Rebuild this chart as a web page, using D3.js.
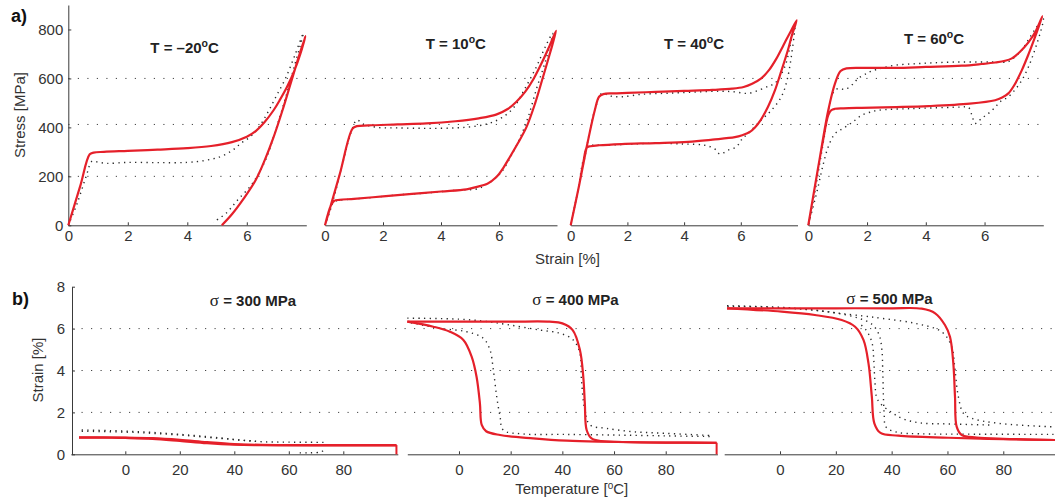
<!DOCTYPE html>
<html><head><meta charset="utf-8">
<script src="https://cdn.jsdelivr.net/npm/d3@7/dist/d3.min.js"></script>
<style>
body{margin:0;background:#fff;}
svg{display:block;font-family:"Liberation Sans",Arial,sans-serif;}
</style></head><body>
<svg id="c" width="1055" height="501"></svg>
<script>
// ---------------- DATA (panel a: stress-strain, [strain %, stress MPa]) ----------------
const tempsA = ["–20", "10", "40", "60"];
const stressTicks = [0, 200, 400, 600, 800];
const strainTicksA = [0, 2, 4, 6];
const gridA = [200, 412, 600];

const a1Model = [[0,0],[0.4,160],[0.72,290],[0.85,297],[1.2,300],[2,304],[3,309],[4,315],[4.8,324],[5.5,340],[6,362],[6.3,385],[6.6,422],[6.9,470],[7.1,510],[7.35,565],[7.6,632],[7.8,700],[7.97,773],
  [7.75,690],[7.5,590],[7.2,470],[6.9,360],[6.6,265],[6.3,185],[5.9,110],[5.5,45],[5.16,0]];
const a1Exp = [[0,0],[0.3,90],[0.6,200],[0.8,262],[1.0,258],[1.3,253],[2,257],[3,256],[4,257],[4.6,265],[5.1,280],[5.5,305],[5.8,335],[6.1,360],[6.4,400],[6.7,460],[7.0,530],[7.3,600],[7.6,690],[7.9,785],
  [7.6,650],[7.3,520],[6.97,389],[6.63,267],[6.19,171],[5.69,103],[5.3,49],[4.87,12]];

const a2Model = [[0,0],[0.5,205],[0.95,395],[1.1,405],[1.5,408],[2.5,412],[3.5,416],[4.5,425],[5.3,437],[5.9,452],[6.3,475],[6.6,505],[6.9,545],[7.2,600],[7.5,670],[7.75,735],[7.97,795],
  [7.75,700],[7.52,607],[7.25,500],[6.95,402],[6.65,335],[6.38,280],[6.15,235],[5.92,198],[5.6,170],[5.2,156],[4.88,147],[4,138],[3,128],[2,118],[1,108],[0.5,104],[0.32,100],[0.2,80],[0,0]];
const a2Exp = [[0,0],[0.3,110],[0.6,250],[0.9,380],[1.1,430],[1.3,415],[1.8,400],[2.5,398],[3.5,396],[4.5,398],[5.2,405],[5.7,418],[6.1,440],[6.5,480],[6.9,560],[7.3,650],[7.6,730],[7.85,785],
  [7.6,670],[7.3,560],[7.0,440],[6.7,350],[6.4,280],[6.1,220],[5.8,185],[5.5,163],[5.3,150],[4.5,143],[3.5,132],[2.5,124],[1.5,112],[0.5,102],[0.3,95],[0.15,50],[0,0]];

const a3Model = [[0,0],[0.3,165],[0.6,340],[0.85,470],[1.0,525],[1.15,536],[1.5,539],[2,541],[3,545],[4,549],[5,553],[5.7,558],[6.1,565],[6.4,578],[6.72,600],[7.0,635],[7.25,680],[7.5,735],[7.75,790],[7.97,838],
  [7.8,775],[7.66,715],[7.4,620],[7.2,550],[6.96,484],[6.7,430],[6.5,400],[6.3,380],[6.05,368],[5.79,360],[5,350],[4.14,341],[3,336],[1.8,332],[1.0,327],[0.7,323],[0.57,318],[0.45,260],[0.3,165],[0,0]];
const a3Exp = [[0,0],[0.27,150],[0.5,280],[0.7,400],[0.9,490],[1.09,539],[1.4,528],[1.79,525],[2.5,535],[3.5,540],[4.5,545],[5.3,548],[5.8,545],[6.25,539],[6.7,555],[7.0,570],[7.2,580],[7.55,647],[7.78,756],[7.92,825],
  [7.66,607],[7.43,525],[7.08,470],[6.72,430],[6.25,375],[6.02,349],[5.85,321],[5.55,307],[5.26,291],[5.08,312],[4.73,327],[4,332],[2.97,335],[2,331],[1.21,327],[0.62,321],[0.44,266],[0.27,152],[0,0]];

const a4Model = [[0,0],[0.34,239],[0.68,470],[0.91,580],[1.1,630],[1.3,641],[2,643],[2.95,643],[4,647],[5.23,652],[5.9,659],[6.36,665],[6.7,672],[6.93,682],[7.2,708],[7.5,748],[7.75,795],[7.97,854],
  [7.72,770],[7.5,700],[7.27,634],[7.0,570],[6.81,539],[6.6,522],[6.36,511],[5.5,497],[4.09,487],[3,483],[1.82,480],[1.2,478],[0.91,476],[0.78,470],[0.68,450],[0.5,345],[0.34,239],[0,0]];
const a4Exp = [[0,0],[0.2,120],[0.4,260],[0.6,400],[0.8,530],[0.95,556],[1.1,558],[1.25,555],[1.5,575],[1.7,600],[1.98,620],[2.15,630],[2.47,641],[2.95,654],[3.64,660],[4.27,664],[5,667],[5.8,667],[6.36,667],[6.8,668],[7.05,690],[7.27,716],[7.55,770],[7.8,815],[8.0,845],
  [7.67,702],[7.27,593],[6.81,525],[6.53,505],[6.36,482],[6.13,457],[5.9,437],[5.68,416],[5.57,450],[5.45,482],[5.2,483],[4.66,481],[3.52,477],[2.39,470],[2.1,462],[1.82,450],[1.6,430],[1.36,409],[1.1,390],[0.91,375],[0.68,321],[0.51,250],[0.3,140],[0,0]];

// ---------------- DATA (panel b: strain-temperature, [T °C, strain %]) ----------------
const stressesB = ["300", "400", "500"];
const strainTicksB = [0, 2, 4, 6, 8];
const tempTicks = [0, 20, 40, 60, 80];
const gridB = [2, 4, 6];

const b1ModelCool = [[-17,0.8],[-5,0.79],[0,0.78],[10,0.74],[20,0.64],[30,0.53],[40,0.46],[50,0.44],[70,0.43],[99.5,0.43]];
const b1ModelHeat = [[-17,0.81],[0,0.8],[10,0.77],[20,0.69],[30,0.58],[40,0.49],[50,0.45],[70,0.44],[99.5,0.44]];
const b1Close = [[99.5,0.44],[99.5,0]];
const b1ExpA = [[-16,1.16],[-5,1.13],[5,1.08],[15,1.0],[25,0.9],[35,0.78],[42,0.68],[50,0.6],[60,0.58],[73,0.57]];
const b1ExpB = [[-16,1.1],[0,1.06],[10,1.0],[20,0.92],[30,0.81],[40,0.7],[48,0.62]];
const b1ExpC = [[64,0.07],[68,0.07],[72,0.12],[73,0.25]];

const b2ModelHeat = [[-20,6.33],[0,6.33],[20,6.33],[35,6.33],[40,6.25],[44,5.93],[46.8,4.98],[48.1,3.7],[48.7,2.43],[49.4,1.16],[51.3,0.76],[55,0.63],[60,0.6],[80,0.56],[99.7,0.55]];
const b2ModelCool = [[99.7,0.55],[80,0.56],[57,0.6],[41.7,0.65],[28.7,0.76],[15.9,0.92],[10.5,1.1],[8.8,1.4],[8.1,2.43],[6.8,3.7],[4.9,4.66],[1.7,5.46],[-3.5,5.85],[-9.9,6.09],[-20,6.33]];
const b2Close = [[99.7,0.55],[99.7,0]];
const b2ExpHeat = [[-20,6.5],[0,6.45],[10,6.35],[19.7,6.17],[31.3,5.93],[39,5.78],[44.2,5.46],[46.8,4.82],[47.4,3.55],[48.7,2.1],[50.7,1.4],[57,1.24],[67.3,1.08],[80,1.0],[97,0.9]];
const b2ExpCool = [[97,0.85],[80,0.88],[60,0.92],[40,0.95],[25,0.97],[17.1,1.16],[15.9,1.8],[14.6,2.75],[13.3,4.03],[12,4.98],[9.4,5.54],[3,5.85],[-7.4,6.01],[-19.3,6.3]];

const b3ModelHeat = [[-19,6.97],[0,6.97],[20,6.97],[40,6.97],[50.8,6.95],[55.6,6.73],[59.1,6.17],[60.9,5.61],[62.1,4.34],[62.7,2.75],[63.3,1.32],[65.1,0.92],[70.5,0.8],[80,0.74],[100,0.68]];
const b3ModelCool = [[100,0.68],[80,0.72],[60.3,0.79],[42.4,0.89],[36,1.02],[33.8,1.48],[32.9,2.75],[31.7,4.34],[29.9,5.46],[26.9,6.09],[22.1,6.41],[12.5,6.65],[0.6,6.81],[-19,6.97]];
const b3ExpHeat = [[-19,7.09],[0,7.02],[10,6.92],[20,6.75],[30,6.6],[36.4,6.49],[48.4,6.25],[57.9,5.85],[61.5,5.14],[62.7,4.02],[63.9,2.75],[65.7,1.96],[68.7,1.72],[78.2,1.48],[96.1,1.32],[100,1.3]];
const b3ExpCoolA = [[100,0.95],[70,0.96],[50,0.98],[42,1.05],[38,1.3],[37.3,2],[37,3],[36.8,4],[36.5,5],[35.5,5.7],[33,6.2],[28,6.5],[20,6.75],[10,6.9],[0,7.0],[-19,7.07]];
const b3ExpCoolB = [[75,1.4],[60,1.45],[50,1.5],[44,1.7],[40,2.0],[35,2.6],[34,3.5],[33.6,4.5],[33,5.3],[31,5.9],[28,6.3]];

// ---------------- DRAWING ----------------
const svg = d3.select("#c");
const RED = "#e5202a", DOT = "#2a2a2a", AX = "#3a3a3a";

const yA = d3.scaleLinear().domain([0, 900]).range([225.3, 5]);
const yB = d3.scaleLinear().domain([0, 8]).range([454.3, 286.7]);

const panelA = [
  {t: tempsA[0], model: [a1Model], exp: [a1Exp], range: [68.3, 306.3], title: [184.6, 52.5]},
  {t: tempsA[1], model: [a2Model], exp: [a2Exp], range: [325, 557], title: [455.8, 48.5]},
  {t: tempsA[2], model: [a3Model], exp: [a3Exp], range: [570.7, 797.5], title: [694, 48.5]},
  {t: tempsA[3], model: [a4Model], exp: [a4Exp], range: [808.3, 1043.3], title: [934, 43.5]}
];
const panelB = [
  {s: stressesB[0], model: [b1ModelCool, b1ModelHeat], close: b1Close, exp: [b1ExpA, b1ExpB, b1ExpC], range: [70.8, 397.8], title: [253, 306]},
  {s: stressesB[1], model: [b2ModelHeat, b2ModelCool], close: b2Close, exp: [b2ExpHeat, b2ExpCool], range: [407.3, 717.4], title: [575.5, 305]},
  {s: stressesB[2], model: [b3ModelHeat, b3ModelCool], close: null, exp: [b3ExpHeat, b3ExpCoolA, b3ExpCoolB], range: [724.2, 1059.1], title: [889.5, 304]}
];

function styleAxis(g) {
  g.attr("font-size", 15).attr("font-family", "'Liberation Sans', Arial, sans-serif").attr("color", AX);
  g.selectAll("text").attr("fill", "#333");
}

// gridlines
svg.append("g").selectAll("line").data(gridA).join("line")
  .attr("x1", 68.3).attr("x2", 1045).attr("y1", d => yA(d)).attr("y2", d => yA(d))
  .attr("stroke", "#444").attr("stroke-width", 1).attr("stroke-dasharray", "1.2,8.3");
svg.append("g").selectAll("line").data(gridB).join("line")
  .attr("x1", 72).attr("x2", 1055).attr("y1", d => yB(d)).attr("y2", d => yB(d))
  .attr("stroke", "#444").attr("stroke-width", 1).attr("stroke-dasharray", "1.2,8.3");

// axes
svg.append("g").attr("transform", "translate(68.3,0)")
  .call(d3.axisLeft(yA).tickValues(stressTicks).tickSizeInner(-3).tickSizeOuter(0).tickPadding(5)).call(styleAxis);
svg.append("g").attr("transform", "translate(72,0)")
  .call(d3.axisLeft(yB).tickValues(strainTicksB).tickSizeInner(-3).tickSizeOuter(0).tickPadding(7)).call(styleAxis);

const mkLine = (x, y) => d3.line().x(d => x(d[0])).y(d => y(d[1])).curve(d3.curveCatmullRom.alpha(0.5));
const linLine = (x, y) => d3.line().x(d => x(d[0])).y(d => y(d[1]));

function title(parent, pos, parts) {
  const t = parent.append("text").attr("x", pos[0]).attr("y", pos[1]).attr("text-anchor", "middle")
    .attr("font-size", 15).attr("font-weight", "bold").attr("fill", "#222");
  parts(t);
}

panelA.forEach(p => {
  const x = d3.scaleLinear().domain([0, 8]).range(p.range);
  svg.append("g").attr("transform", "translate(0,225.3)")
    .call(d3.axisBottom(x).tickValues(strainTicksA).tickSizeInner(-3).tickSizeOuter(0).tickPadding(5)).call(styleAxis);
  const g = svg.append("g");
  p.exp.forEach(d => g.append("path").attr("d", mkLine(x, yA)(d)).attr("fill", "none")
    .attr("stroke", DOT).attr("stroke-width", 1.4).attr("stroke-dasharray", "1.3,4.3"));
  p.model.forEach(d => g.append("path").attr("d", mkLine(x, yA)(d)).attr("fill", "none")
    .attr("stroke", RED).attr("stroke-width", 2.2).attr("stroke-linejoin", "round"));
  title(svg, p.title, t => {
    t.append("tspan").text("T = " + p.t);
    t.append("tspan").attr("dy", -6).attr("font-size", 10.5).text("o");
    t.append("tspan").attr("dy", 6).text("C");
  });
});

panelB.forEach(p => {
  const x = d3.scaleLinear().domain([-20, 100]).range(p.range);
  svg.append("g").attr("transform", "translate(0,454.3)")
    .call(d3.axisBottom(x).tickValues(tempTicks).tickSizeInner(-3).tickSizeOuter(0).tickPadding(10)).call(styleAxis);
  const g = svg.append("g");
  p.exp.forEach(d => g.append("path").attr("d", mkLine(x, yB)(d)).attr("fill", "none")
    .attr("stroke", DOT).attr("stroke-width", 1.4).attr("stroke-dasharray", "1.3,4.3"));
  p.model.forEach(d => g.append("path").attr("d", mkLine(x, yB)(d)).attr("fill", "none")
    .attr("stroke", RED).attr("stroke-width", 2.2).attr("stroke-linejoin", "round"));
  if (p.close) g.append("path").attr("d", linLine(x, yB)(p.close)).attr("fill", "none")
    .attr("stroke", RED).attr("stroke-width", 2);
  title(svg, p.title, t => {
    t.append("tspan").attr("font-family", "'Liberation Serif', 'DejaVu Serif', serif").attr("font-weight", "normal").attr("font-size", 17).text("σ");
    t.append("tspan").text(" = " + p.s + " MPa");
  });
});

// labels
const lab = (x, y, txt, opts = {}) => svg.append("text").attr("x", x).attr("y", y)
  .attr("text-anchor", opts.anchor || "middle").attr("font-size", opts.size || 15)
  .attr("font-weight", opts.bold ? "bold" : "normal").attr("fill", opts.fill || "#333")
  .attr("transform", opts.rot ? `rotate(-90,${x},${y})` : null).text(txt);

lab(11, 22, "a)", {anchor: "start", size: 18, bold: true, fill: "#111"});
lab(12, 305, "b)", {anchor: "start", size: 18, bold: true, fill: "#111"});
lab(25, 115, "Stress [MPa]", {rot: true});
lab(567.5, 264, "Strain [%]");
lab(43, 370, "Strain [%]", {rot: true});
const tl = svg.append("text").attr("x", 571.7).attr("y", 494).attr("text-anchor", "middle")
  .attr("font-size", 15).attr("fill", "#333");
tl.append("tspan").text("Temperature [");
tl.append("tspan").attr("dy", -5).attr("font-size", 10).text("o");
tl.append("tspan").attr("dy", 5).text("C]");
</script></body></html>
